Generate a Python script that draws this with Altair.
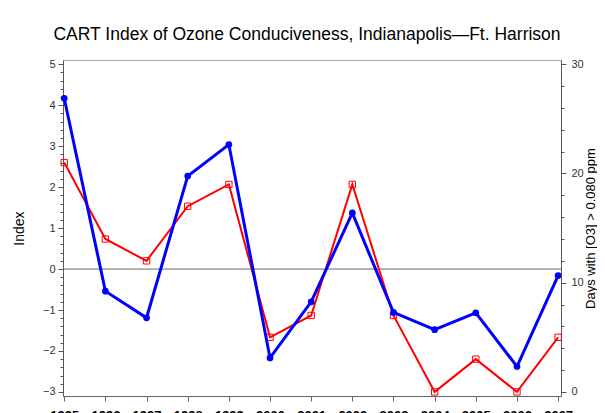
import altair as alt
import pandas as pd

years = [1995, 1996, 1997, 1998, 1999, 2000, 2001, 2002, 2003, 2004, 2005, 2006, 2007]
cart_index = [4.17, -0.54, -1.19, 2.27, 3.04, -2.17, -0.80, 1.37, -1.06, -1.48, -1.07, -2.38, -0.16]
ozone_days = [21, 14, 12, 17, 19, 5, 7, 19, 7, 0, 3, 0, 5]

index_major = [-3, -2, -1, 0, 1, 2, 3, 4, 5]
index_minor = [round(-3 + 0.2 * i, 1) for i in range(41)]
days_major = [0, 10, 20, 30]
days_minor = list(range(0, 31, 2))

df = pd.DataFrame({"year": years, "index": cart_index, "days": ozone_days})
zero_df = pd.DataFrame({"index": [0.0]})

FONT = "Liberation Sans"

x_enc = alt.X(
    "year:Q",
    scale=alt.Scale(domain=[1994.97, 2007.07], nice=False, zero=False),
    axis=alt.Axis(
        values=years, format="d", title=None, grid=False,
        tickSize=5, labelPadding=8, labelFontSize=13, labelFontWeight="bold",
        labelColor="#000", labelFont=FONT, labelFlush=False, labelOverlap=False,
        domainColor="#666", tickColor="#666",
    ),
)

idx_scale = alt.Scale(domain=[-3.1, 5.105], nice=False, zero=False)
days_scale = alt.Scale(domain=[-0.375, 30.39], nice=False, zero=False)

idx_axis = alt.Axis(
    orient="left", values=index_major, format="d", title="Index", grid=False,
    tickSize=5, labelOverlap=False, labelPadding=3, labelFontSize=11, labelFont=FONT,
    labelColor="#333", tickColor="#555", domainColor="#555",
    titleFont=FONT, titleFontSize=14, titleFontWeight="normal", titleColor="#000",
    titlePadding=16,
)
idx_minor_axis = alt.Axis(
    orient="left", values=index_minor, labels=False, title=None, grid=False,
    tickSize=3, tickColor="#555", domain=False,
)
days_axis = alt.Axis(
    orient="right", values=days_major, format="d", title="Days with [O3] > 0.080 ppm",
    grid=False, tickSize=5, labelOverlap=False, labelPadding=5, labelFontSize=11,
    labelFont=FONT, labelColor="#333", tickColor="#555", domainColor="#555",
    titleFont=FONT, titleFontSize=13, titleFontWeight="normal", titleColor="#000",
    titleAngle=270, titlePadding=14,
)
days_minor_axis = alt.Axis(
    orient="right", values=days_minor, labels=False, title=None, grid=False,
    tickSize=3, tickColor="#555", domain=False,
)

zero_rule = alt.Chart(zero_df).mark_rule(color="#666", strokeWidth=1).encode(
    y=alt.Y("index:Q", scale=idx_scale, axis=idx_axis)
)
blue_line = alt.Chart(df).mark_line(color="#0000ff", strokeWidth=3).encode(
    x=x_enc, y=alt.Y("index:Q", scale=idx_scale, axis=idx_axis)
)
blue_pts = alt.Chart(df).mark_point(
    shape="circle", filled=True, color="#0000ff", size=45, opacity=1
).encode(x=x_enc, y=alt.Y("index:Q", scale=idx_scale, axis=idx_axis))

idx_minor_layer = alt.Chart(df).mark_point(opacity=0).encode(
    x=x_enc, y=alt.Y("index:Q", scale=idx_scale, axis=idx_minor_axis)
)

red_line = alt.Chart(df).mark_line(color="#ff0000", strokeWidth=2).encode(
    x=x_enc, y=alt.Y("days:Q", scale=days_scale, axis=days_axis)
)
red_pts = alt.Chart(df).mark_point(
    shape="square", filled=False, color="#ff0000", size=40, strokeWidth=1, opacity=1
).encode(x=x_enc, y=alt.Y("days:Q", scale=days_scale, axis=days_axis))

days_minor_layer = alt.Chart(df).mark_point(opacity=0).encode(
    x=x_enc, y=alt.Y("days:Q", scale=days_scale, axis=days_minor_axis)
)

idx_layer = alt.layer(zero_rule, blue_line, blue_pts)
days_layer = alt.layer(red_line, red_pts)

chart = (
    alt.layer(idx_minor_layer, days_minor_layer, days_layer, idx_layer)
    .resolve_scale(y="independent")
    .properties(
        width=498,
        height=336,
        padding={"left": 55, "top": 52, "right": 36, "bottom": 17},
        autosize=alt.AutoSizeParams(type="none"),
        title=alt.TitleParams(
            "CART Index of Ozone Conduciveness, Indianapolis\u2014Ft. Harrison",
            font=FONT, fontSize=17.5, fontWeight="normal", color="#000",
            anchor="middle", offset=15, dx=-5,
        ),
        background="white",
    )
    .configure_view(stroke="#aaa", strokeWidth=1)
)

chart.save("out.html", embed_options={"renderer": "svg", "actions": False})
